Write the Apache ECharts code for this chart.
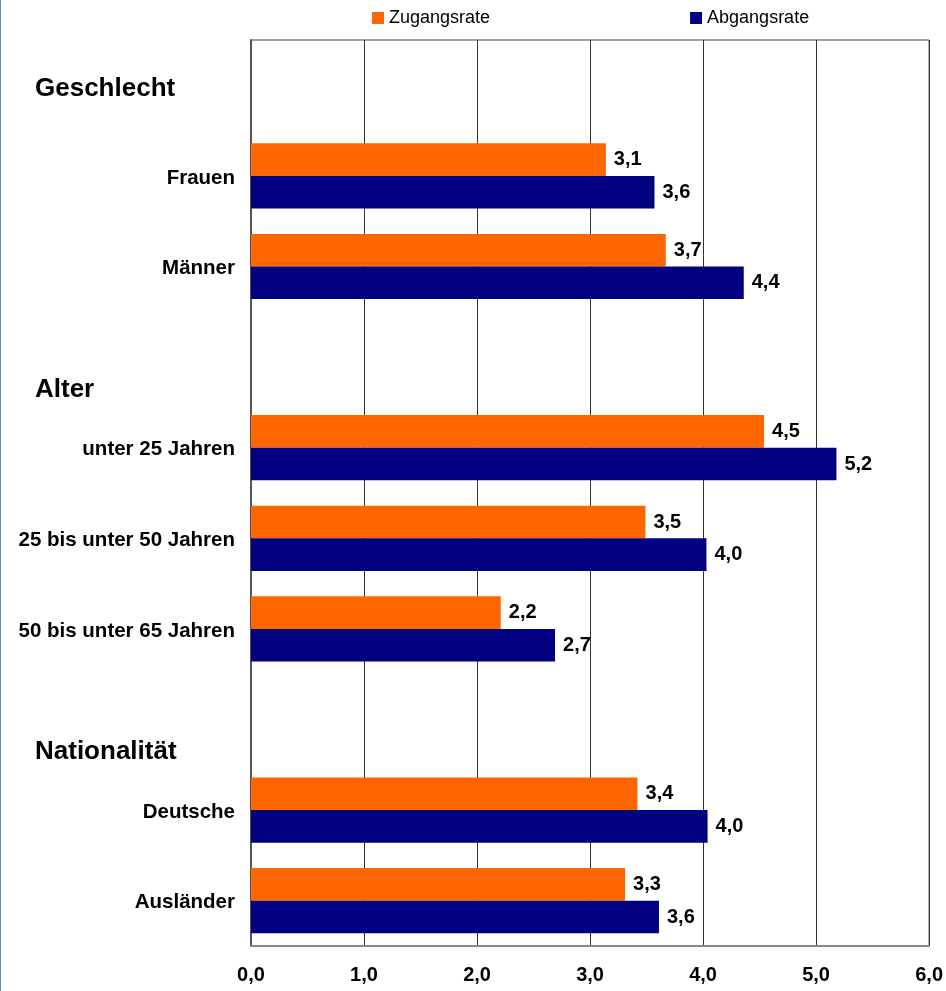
<!DOCTYPE html>
<html>
<head>
<meta charset="utf-8">
<script src="https://cdn.jsdelivr.net/npm/echarts@6/dist/echarts.min.js"></script>
<style>
  html, body { margin: 0; padding: 0; background: #ffffff; }
  #chart { width: 945px; height: 991px; border-left: 1px solid #5b8bbd; }
</style>
</head>
<body>
<div id="chart"></div>
<script>
  // Kategorien (Überschriftenzeilen ohne Balken)
  const categories = ['Geschlecht', 'Frauen', 'Männer', 'Alter', 'unter 25 Jahren', '25 bis unter 50 Jahren',
    '50 bis unter 65 Jahren', 'Nationalität', 'Deutsche', 'Ausländer'];
  const headers = ['Geschlecht', 'Alter', 'Nationalität'];
  const zugangsrate = [null, 3.14, 3.67, null, 4.54, 3.49, 2.21, null, 3.42, 3.31];
  const abgangsrate = [null, 3.57, 4.36, null, 5.18, 4.03, 2.69, null, 4.04, 3.61];
  const xTicks = [0, 1, 2, 3, 4, 5, 6];

  const fmt = v => v.toFixed(1).replace('.', ',');
  const font = 'Liberation Sans, Arial, sans-serif';

  const chart = echarts.init(document.getElementById('chart'));

  const barLabel = {
    show: true,
    position: 'right',
    distance: 8,
    color: '#000',
    fontFamily: font,
    fontWeight: 'bold',
    fontSize: 20,
    formatter: p => (p.value == null ? '' : fmt(p.value))
  };

  const option = {
    animation: false,
    legend: {
      top: 4,
      left: 366,
      itemWidth: 12,
      itemHeight: 12,
      itemGap: 200,
      icon: 'rect',
      textStyle: { fontFamily: font, fontSize: 18, color: '#000' },
      data: ['Zugangsrate', 'Abgangsrate']
    },
    grid: {
      left: 250,
      right: 16,
      top: 40,
      bottom: 45,
      show: true,
      borderColor: '#444',
      borderWidth: 1
    },
    xAxis: {
      type: 'value',
      min: xTicks[0],
      max: xTicks[xTicks.length - 1],
      interval: 1,
      axisLine: { show: true, lineStyle: { color: '#888', width: 2 } },
      axisTick: { show: false },
      splitLine: { show: true, lineStyle: { color: '#333', width: 1 } },
      axisLabel: {
        margin: 19,
        color: '#000',
        fontFamily: font,
        fontWeight: 'bold',
        fontSize: 20,
        formatter: v => fmt(v)
      }
    },
    yAxis: {
      type: 'category',
      inverse: true,
      data: categories,
      axisLine: { show: true, lineStyle: { color: '#555', width: 2 } },
      axisTick: { show: false },
      axisLabel: {
        margin: 16,
        padding: [4, 0, 0, 0],
        color: '#000',
        fontFamily: font,
        fontWeight: 'bold',
        fontSize: 20.5,
        formatter: v => {
          if (v === 'Geschlecht') return '{h|' + v + '}';
          if (headers.includes(v)) return '{hs|' + v + '}';
          return v;
        },
        rich: {
          h: { width: 200, align: 'left', fontSize: 26, fontWeight: 'bold', fontFamily: font, color: '#000', padding: [4, 0, 0, 0] },
          hs: { width: 200, align: 'left', fontSize: 26, fontWeight: 'bold', fontFamily: font, color: '#000', padding: [61, 0, 0, 0] }
        }
      }
    },
    series: [
      {
        name: 'Zugangsrate',
        type: 'bar',
        data: zugangsrate,
        barGap: '0%',
        barCategoryGap: '28%',
        itemStyle: { color: '#ff6600' },
        label: barLabel
      },
      {
        name: 'Abgangsrate',
        type: 'bar',
        data: abgangsrate,
        barGap: '0%',
        barCategoryGap: '28%',
        itemStyle: { color: '#000080' },
        label: barLabel
      }
    ]
  };

  chart.setOption(option);
</script>
</body>
</html>
